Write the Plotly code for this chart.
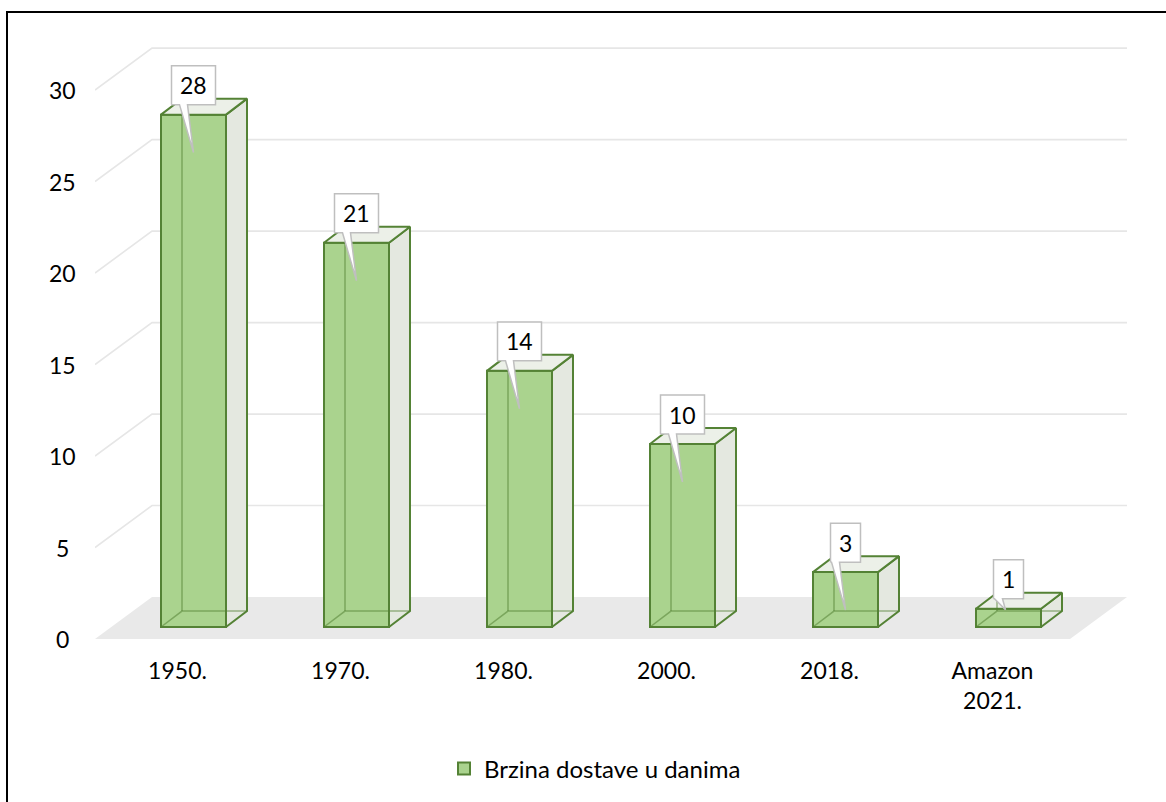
import plotly.graph_objects as go

# ---- data ----
categories = ["1950.", "1970.", "1980.", "2000.", "2018.", "Amazon<br>2021."]
values = [28, 21, 14, 10, 3, 1]
y_ticks = [0, 5, 10, 15, 20, 25, 30]
series_name = "Brzina dostave u danima"

# ---- geometry (pixels -> data units) ----
W, H = 1166, 802
ML, MR, MT, MB = 95, 39, 40, 162
PW, PH = W - ML - MR, H - MT - MB
PX_CAT = 163.0
PX_VAL = 18.33
X0 = -82.5 / PX_CAT
X1 = X0 + PW / PX_CAT
Y1 = PH / PX_VAL


def dx(p):
    return p / PX_CAT


def dy(p):
    return p / PX_VAL


def paper_x(px):
    return (px - ML) / PW


def paper_y(py):
    return (H - MB - py) / PH


HALF = dx(32.5)
S1 = (dx(16), dy(12))          # bar front plane offset
DD = (dx(21), dy(16))          # bar depth
FB = (dx(57), dy(42))          # floor depth

FONT = "Lato, 'Noto Sans', sans-serif"
EDGE = "#548235"
FRONT = "rgb(170,211,142)"
SIDE = "rgb(228,232,224)"
TOP = "rgb(236,240,232)"

fig = go.Figure()

xs = list(range(len(values)))

# front faces as bars
fig.add_trace(go.Bar(
    x=[i + S1[0] for i in xs], y=values, base=S1[1], width=2 * HALF,
    marker=dict(color=FRONT, line=dict(color=EDGE, width=2)),
    name=series_name, showlegend=True, hoverinfo="skip",
))

hx, hy = [], []
for i, v in zip(xs, values):
    xl = i + S1[0] - HALF
    xr = i + S1[0] + HALF
    yb = S1[1]
    yt = S1[1] + v
    # right side face
    fig.add_trace(go.Scatter(
        x=[xr, xr + DD[0], xr + DD[0], xr, xr],
        y=[yb, yb + DD[1], yt + DD[1], yt, yb],
        mode="lines", fill="toself", fillcolor=SIDE,
        line=dict(color=EDGE, width=2), showlegend=False, hoverinfo="skip"))
    # top face
    fig.add_trace(go.Scatter(
        x=[xl, xr, xr + DD[0], xl + DD[0], xl],
        y=[yt, yt, yt + DD[1], yt + DD[1], yt],
        mode="lines", fill="toself", fillcolor=TOP,
        line=dict(color=EDGE, width=2), showlegend=False, hoverinfo="skip"))
    # hidden edges
    hx += [xl, xl + DD[0], xr + DD[0], None, xl + DD[0], xl + DD[0], None]
    hy += [yb, yb + DD[1], yb + DD[1], None, yb + DD[1], yt + DD[1], None]

fig.add_trace(go.Scatter(x=hx, y=hy, mode="lines",
                         line=dict(color="rgba(84,130,53,0.55)", width=1.5),
                         showlegend=False, hoverinfo="skip"))

# callouts
for i, v in zip(xs, values):
    cx = i + S1[0]
    top = S1[1] + v
    label = str(v)
    wpx = 16 + 14 * len(label)
    bw = dx(wpx) / 2
    bb = top + dy(10)
    bt = bb + dy(39)
    if v * PX_VAL > 45:
        tip = (cx, top - dy(38))
    else:
        tip = (cx - dx(3), top - dy(1))
    t1 = cx - dx(14)
    t2 = cx - dx(6)
    fig.add_trace(go.Scatter(
        x=[cx - bw, t1, tip[0], t2, cx + bw, cx + bw, cx - bw, cx - bw],
        y=[bb, bb, tip[1], bb, bb, bt, bt, bb],
        mode="lines", fill="toself", fillcolor="white",
        line=dict(color="#bfbfbf", width=1.5), showlegend=False, hoverinfo="skip"))
    fig.add_annotation(x=cx, y=(bb + bt) / 2, text=label, showarrow=False,
                       xanchor="center", yanchor="middle",
                       font=dict(family=FONT, size=23, color="black"))

shapes = []
# floor
fx = [X0, X1 - FB[0], X1, X0 + FB[0]]
fy = [0, 0, FB[1], FB[1]]
shapes.append(dict(type="path", xref="x", yref="y", layer="below",
                   path="M{},{} L{},{} L{},{} L{},{} Z".format(fx[0], fy[0], fx[1], fy[1], fx[2], fy[2], fx[3], fy[3]),
                   fillcolor="#e9e9e9", line=dict(width=0)))
# back/side wall gridlines
for t in y_ticks[1:]:
    shapes.append(dict(type="path", xref="x", yref="y", layer="below",
                       path="M{},{} L{},{} L{},{}".format(X0, t, X0 + FB[0], t + FB[1], X1, t + FB[1]),
                       line=dict(color="#e6e6e6", width=1.6)))
# outer border
shapes.append(dict(type="rect", xref="paper", yref="paper",
                   x0=paper_x(7), y0=paper_y(12), x1=paper_x(1172), y1=paper_y(808),
                   line=dict(color="black", width=2), fillcolor="rgba(0,0,0,0)"))

# y tick labels
for t in y_ticks:
    fig.add_annotation(x=paper_x(62), xref="paper", y=t, yref="y", text=str(t),
                       showarrow=False, xanchor="center", yanchor="middle",
                       font=dict(family=FONT, size=23, color="black"))

fig.update_layout(
    width=W, height=H, autosize=False,
    margin=dict(l=ML, r=MR, t=MT, b=MB),
    paper_bgcolor="white", plot_bgcolor="white",
    shapes=shapes,
    barmode="overlay",
    font=dict(family=FONT, size=23, color="black"),
    xaxis=dict(range=[X0, X1], tickvals=xs, ticktext=categories,
               showgrid=False, zeroline=False, showline=False, ticks="",
               ticklabelstandoff=16,
               tickfont=dict(family=FONT, size=23, color="black"), fixedrange=True),
    yaxis=dict(range=[0, Y1], showgrid=False, zeroline=False, showline=False,
               showticklabels=False, ticks="", fixedrange=True),
    legend=dict(orientation="h", x=paper_x(595), y=paper_y(769),
                xanchor="center", yanchor="middle",
                font=dict(family=FONT, size=24, color="black"),
                bgcolor="rgba(0,0,0,0)"),
    showlegend=True,
)

fig.write_html("out.html")
